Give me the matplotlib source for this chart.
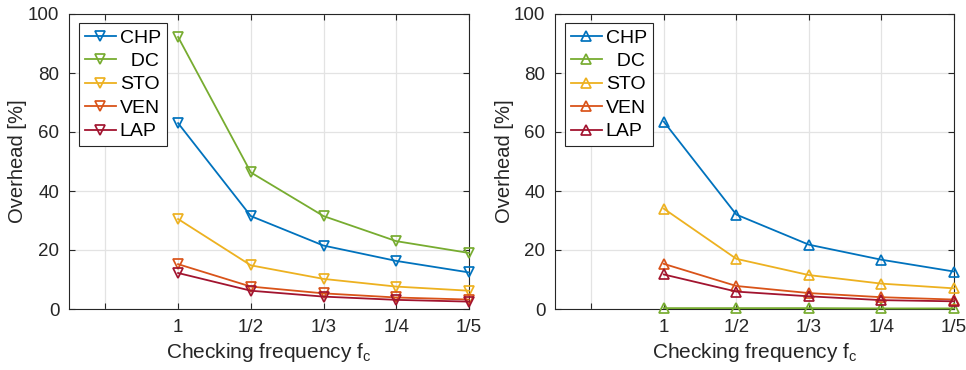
import matplotlib.pyplot as plt

plt.rcParams['font.family'] = ['Liberation Sans', 'DejaVu Sans']

x_pos = [1, 2, 3, 4, 5]
tick_labels = ['', '1', '1/2', '1/3', '1/4', '1/5']
series_names = ['CHP', '  DC', 'STO', 'VEN', 'LAP']

# left panel
left_chp = [63.0, 31.5, 21.5, 16.3, 12.4]
left_dc = [92.2, 46.3, 31.5, 23.0, 19.0]
left_sto = [30.5, 14.8, 10.2, 7.6, 6.2]
left_ven = [15.2, 7.6, 5.3, 3.9, 3.2]
left_lap = [12.2, 6.2, 4.2, 3.1, 2.5]

# right panel
right_chp = [63.5, 32.0, 21.8, 16.7, 12.7]
right_dc = [0.3, 0.3, 0.3, 0.2, 0.2]
right_sto = [34.0, 17.0, 11.5, 8.6, 7.0]
right_ven = [15.3, 7.8, 5.4, 4.0, 3.2]
right_lap = [11.7, 5.9, 4.3, 3.0, 2.6]

colors = ['#0072BD', '#77AC30', '#EDB120', '#D95319', '#A2142F']
axis_col = '#262626'

fig = plt.figure(figsize=(9.66, 3.70), dpi=100)
ax_l = fig.add_axes([69 / 966, 61 / 370, 400 / 966, 295 / 370])
ax_r = fig.add_axes([555 / 966, 61 / 370, 399 / 966, 295 / 370])

panels = [
    (ax_l, [left_chp, left_dc, left_sto, left_ven, left_lap], 'v'),
    (ax_r, [right_chp, right_dc, right_sto, right_ven, right_lap], '^'),
]

for ax, data, mk in panels:
    for vals, name, c in zip(data, series_names, colors):
        ax.plot(x_pos, vals, color=c, lw=1.3, marker=mk, markersize=7,
                markerfacecolor='none', markeredgewidth=1.25, label=name,
                clip_on=False, zorder=3)
    ax.set_xlim(-0.5, 5)
    ax.set_ylim(0, 100)
    ax.set_xticks(range(0, 6))
    ax.set_xticklabels(tick_labels)
    ax.set_yticks(range(0, 101, 20))
    ax.grid(True, color='#e3e3e3', lw=0.9)
    ax.set_axisbelow(True)
    ax.tick_params(direction='in', length=4, colors=axis_col, labelsize=13.5,
                   top=True, right=True, pad=7)
    for s in ax.spines.values():
        s.set_color(axis_col)
        s.set_linewidth(0.8)
    ax.set_ylabel('Overhead [%]', fontsize=14.5, color=axis_col)
    ax.yaxis.set_label_coords(-0.104, 0.5)
    ax.set_xlabel('Checking frequency f$_\\mathregular{c}$', fontsize=15,
                  color=axis_col)
    ax.xaxis.set_label_coords(0.5, -0.11)
    leg = ax.legend(loc='upper left', bbox_to_anchor=(0.025, 0.969), fontsize=14,
                    handlelength=1.6, handletextpad=0.2, borderpad=0.3,
                    labelspacing=0.3, borderaxespad=0, fancybox=False,
                    framealpha=1, edgecolor=axis_col)
    leg.get_frame().set_linewidth(0.8)

fig.savefig('out.png', dpi=100)
